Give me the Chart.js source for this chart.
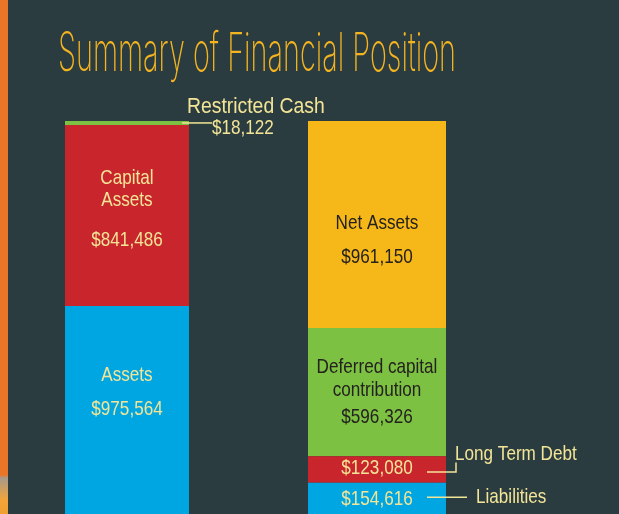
<!doctype html>
<html>
<head>
<meta charset="UTF-8">
<title>Summary of Financial Position</title>
<script src="https://cdn.jsdelivr.net/npm/chart.js@4.4.1/dist/chart.umd.min.js"></script>
<style>
body{
	margin:0;
	background:#2b3c40;
	overflow:hidden;
	width:619px;
	height:514px;
	position:relative;
}
.strip{
	position:absolute;
	left:0;top:0;
	width:8px;height:514px;
	background:linear-gradient(#e97527 0, #e97527 475px, #a89a8a 478px, #f2a43a 500px, #f0a030 514px);
}
#chart{
	position:absolute;
	left:0;top:0;
}
</style>
</head>
<body>
<div class="strip"></div>
<canvas id="chart" width="619" height="530"></canvas>

<script>
// data
var categories = ['Assets', 'Liabilities and Net Assets'];
var leftNames = ['Assets', 'Capital\nAssets', 'Restricted Cash'];
var leftValues = [975564, 841486, 18122];
var rightNames = ['Liabilities', 'Long Term Debt', 'Deferred capital\ncontribution', 'Net Assets'];
var rightValues = [154616, 123080, 596326, 961150];

var total = leftValues.reduce(function(a, b){ return a + b; }, 0);

var blue = '#00a6e1', red = '#c8252c', green = '#7cc142', yellow = '#f6b819';
var pale = '#f3e597', dark = '#24211f';
var FONT = '21px "Liberation Sans", Arial, sans-serif';

function money(v){
	return '$' + v.toLocaleString('en-US');
}

var datasets = [];
var leftColors = [blue, red, green];
var leftLabels = [
	{mode:'inside', dy:[-36, -2], color:pale},
	{mode:'inside', dy:[-37, -15, 24.5], color:pale},
	{mode:'top'}
];
leftValues.forEach(function(v, i){
	datasets.push({
		label: leftNames[i].replace('\n', ' '),
		data: [v, null],
		backgroundColor: leftColors[i],
		barPercentage: 0.496,
		categoryPercentage: 1,
		lbl: leftLabels[i],
		name: leftNames[i]
	});
});

var rightColors = [blue, red, green, yellow];
var rightLabels = [
	{mode:'side'},
	{mode:'elbow'},
	{mode:'inside', dy:[-25, -2, 25.5], color:dark},
	{mode:'inside', dy:[-1, 32.5], color:dark}
];
rightValues.forEach(function(v, i){
	datasets.push({
		label: rightNames[i].replace('\n', ' '),
		data: [null, v],
		backgroundColor: rightColors[i],
		barPercentage: 0.552,
		categoryPercentage: 1,
		lbl: rightLabels[i],
		name: rightNames[i]
	});
});

function txt(ctx, s, x, y, align, sx){
	ctx.save();
	ctx.translate(x, y);
	ctx.scale(sx || 0.815, 1);
	ctx.textAlign = align;
	ctx.textBaseline = 'middle';
	ctx.fillText(s, 0, 0);
	ctx.restore();
}

function line(ctx, pts){
	ctx.save();
	ctx.strokeStyle = pale;
	ctx.lineWidth = 1.5;
	ctx.beginPath();
	ctx.moveTo(pts[0][0], pts[0][1]);
	for (var i = 1; i < pts.length; i++) ctx.lineTo(pts[i][0], pts[i][1]);
	ctx.stroke();
	ctx.restore();
}

var labelPlugin = {
	id: 'segLabels',
	afterDatasetsDraw: function(chart){
		var ctx = chart.ctx;
		chart.data.datasets.forEach(function(ds, di){
			var meta = chart.getDatasetMeta(di);
			var idx = ds.data[0] != null ? 0 : 1;
			var el = meta.data[idx];
			var cx = el.x, cy = (el.y + el.base) / 2, right = el.x + el.width / 2;
			var val = money(ds.data[idx]);
			var L = ds.lbl;
			ctx.font = FONT;
			if (L.mode == 'inside'){
				ctx.fillStyle = L.color;
				var lines = ds.name.split('\n').concat([val]);
				lines.forEach(function(s, k){
					txt(ctx, s, cx, cy + L.dy[k], 'center');
				});
			} else if (L.mode == 'top'){
				ctx.fillStyle = pale;
				line(ctx, [[right - 7, cy], [right + 23, cy]]);
				ctx.font = '22px "Liberation Sans", Arial, sans-serif';
				txt(ctx, ds.name, right - 2, cy - 16, 'left', 0.88);
				ctx.font = FONT;
				txt(ctx, val, right + 23, cy + 5, 'left');
			} else if (L.mode == 'side'){
				ctx.fillStyle = pale;
				txt(ctx, val, cx, cy, 'center');
				line(ctx, [[right - 19, cy - 2], [right + 21, cy - 2]]);
				txt(ctx, ds.name, right + 30, cy - 2, 'left');
			} else if (L.mode == 'elbow'){
				ctx.fillStyle = pale;
				txt(ctx, val, cx, cy - 1.5, 'center');
				line(ctx, [[right - 19, cy + 2.5], [right + 10, cy + 2.5], [right + 10, cy - 7]]);
				txt(ctx, ds.name, right + 9, cy - 15.5, 'left');
			}
		});

		// title
		ctx.save();
		ctx.fillStyle = '#f4b420';
		ctx.font = '200 54px Inter, Roboto, sans-serif';
		ctx.textBaseline = 'alphabetic';
		var t = 'Summary of Financial Position';
		var w = ctx.measureText(t).width;
		ctx.translate(58, 71);
		ctx.scale(398 / w, 1);
		ctx.fillText(t, 0, 0);
		ctx.restore();
	}
};

var chart = new Chart(document.getElementById('chart'), {
	type: 'bar',
	data: {
		labels: categories,
		datasets: datasets
	},
	options: {
		responsive: false,
		animation: false,
		layout: {padding: {left: 2, right: 117, top: 121, bottom: 14}},
		plugins: {
			legend: {display: false},
			title: {display: false},
			tooltip: {enabled: false}
		},
		scales: {
			x: {stacked: true, display: false},
			y: {stacked: true, display: false, min: 0, max: total}
		}
	},
	plugins: [labelPlugin]
});
</script>
</body>
</html>
